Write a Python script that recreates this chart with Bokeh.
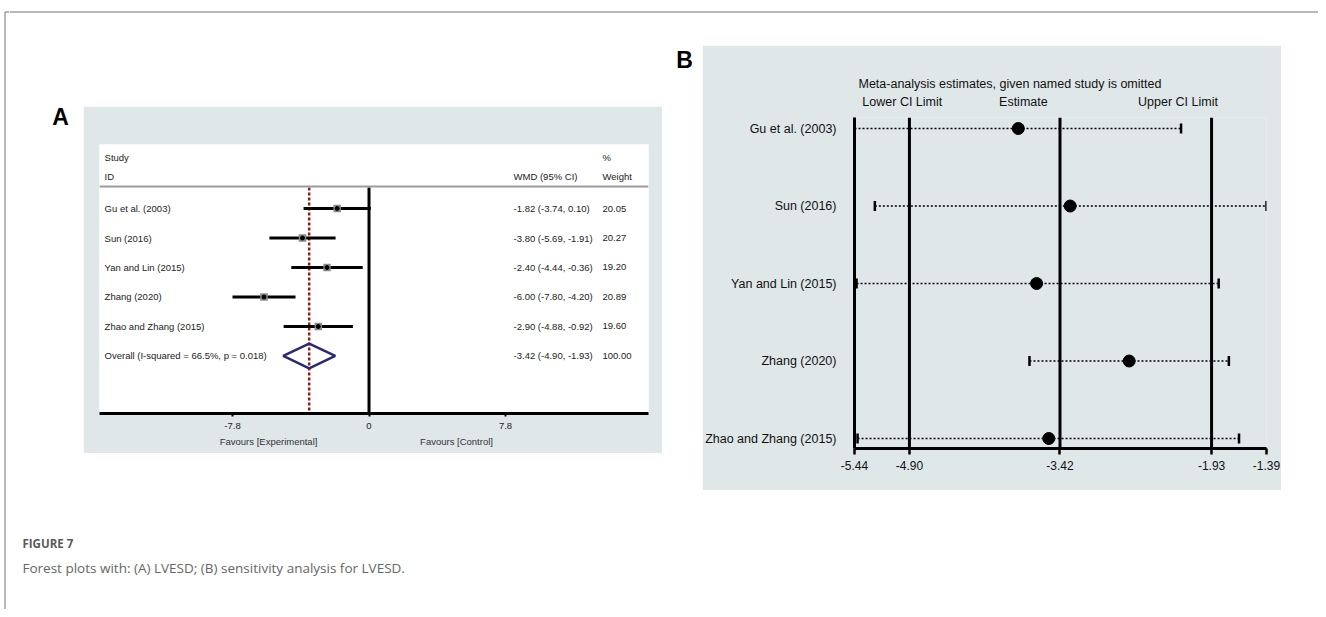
import numpy as np
from bokeh.plotting import figure
from bokeh.models import Range1d, LinearAxis, FixedTicker, Span, Spacer, PrintfTickFormatter
from bokeh.layouts import row, column
from bokeh.core.properties import value
from bokeh.embed import file_html
from bokeh.resources import INLINE

# ---------------- data: panel A (forest plot) ----------------
studies = ["Gu et al. (2003)", "Sun (2016)", "Yan and Lin (2015)", "Zhang (2020)", "Zhao and Zhang (2015)"]
wmd = [-1.82, -3.80, -2.40, -6.00, -2.90]
ci_low = [-3.74, -5.69, -4.44, -7.80, -4.88]
ci_high = [0.10, -1.91, -0.36, -4.20, -0.92]
weights = [20.05, 20.27, 19.20, 20.89, 19.60]
overall_est = -3.42
overall_low = -4.90
overall_high = -1.93
overall_weight = 100.00
i_squared = 66.5
p_value = 0.018
a_ticks = [-7.8, 0, 7.8]
a_tick_labels = ["-7.8", "0", "7.8"]
favour_labels = ["Favours [Experimental]", "Favours [Control]"]

# ---------------- data: panel B (sensitivity analysis) ----------------
omitted = ["Gu et al. (2003)", "Sun (2016)", "Yan and Lin (2015)", "Zhang (2020)", "Zhao and Zhang (2015)"]
b_est = [-3.83, -3.32, -3.65, -2.74, -3.53]
b_low = [-5.44, -5.24, -5.42, -3.72, -5.41]
b_high = [-2.23, -1.39, -1.86, -1.76, -1.66]
b_ref = [-4.90, -3.42, -1.93]
b_ticks = [-5.44, -4.90, -3.42, -1.93, -1.39]
b_headers = ["Lower CI Limit", "Estimate", "Upper CI Limit"]
b_title = "Meta-analysis estimates, given named study is omitted"

caption_head = "FIGURE 7"
caption_text = "Forest plots with: (A) LVESD; (B) sensitivity analysis for LVESD."

# ---------------- styles / layout positions ----------------
FONT = "Liberation Sans"
BG = "#dfe7e9"
BORDER = "#707070"
a_rows = [1, 2, 3, 4, 5]
a_overall_row = 6
a_label_x = -15.11
a_wmd_x = 8.26
a_weight_x = 13.34
a_head1_y = -0.73
a_head2_y = -0.09
a_sep_y = 0.254
a_line_top = 0.29
a_yr = (7.95, -1.17)
a_xr = (-15.4, 15.97)
fav_pos = [-5.74, 5.0]
b_rows = [1, 2, 3, 4, 5]
b_yr = (5.129, 0.858)
b_header_pos = [-4.97, -3.78, -2.26]
STRIP_W = 9
TOTAL_W = 1318
TOTAL_H = 609
INNER_W = TOTAL_W - STRIP_W


def blank(w, h):
    f = figure(width=w, height=h, x_range=Range1d(0, w), y_range=Range1d(h, 0),
               output_backend="svg", toolbar_location=None, min_border=0,
               x_axis_location=None, y_axis_location=None)
    f.outline_line_color = None
    f.grid.visible = False
    f.background_fill_color = "white"
    f.border_fill_color = "white"
    return f


# ---------------- panel A ----------------
pa = figure(width=579, height=347, x_range=Range1d(*a_xr), y_range=Range1d(*a_yr),
            output_backend="svg", toolbar_location=None,
            x_axis_location=None, y_axis_location=None,
            min_border_left=16, min_border_right=14, min_border_top=38, min_border_bottom=40)
pa.grid.visible = False
pa.background_fill_color = "white"
pa.border_fill_color = BG
pa.outline_line_color = None

ax_a = LinearAxis(ticker=FixedTicker(ticks=a_ticks),
                  major_label_overrides=dict(zip(a_ticks, a_tick_labels)),
                  axis_line_width=3, axis_line_color="black",
                  major_tick_out=3, major_tick_in=0, major_tick_line_width=2,
                  minor_tick_line_color=None, major_label_standoff=6,
                  major_label_text_font=FONT, major_label_text_font_size="9.5px",
                  major_label_text_color="#222222")
pa.add_layout(ax_a, "below")
ax_fav = LinearAxis(ticker=FixedTicker(ticks=fav_pos),
                    major_label_overrides=dict(zip(fav_pos, favour_labels)),
                    axis_line_color=None, major_tick_line_color=None, minor_tick_line_color=None,
                    major_label_standoff=-2, major_label_text_font=FONT,
                    major_label_text_font_size="9.5px", major_label_text_color="#333333")
pa.add_layout(ax_fav, "below")

pa.add_layout(Span(location=a_sep_y, dimension="width", line_color="#9c9c9c", line_width=2))
pa.segment(x0=[0], y0=[a_line_top], x1=[0], y1=[a_yr[0]], line_color="black", line_width=3)
pa.segment(x0=[overall_est], y0=[a_line_top], x1=[overall_est], y1=[a_yr[0]],
           line_color="#8b1d1d", line_width=2.5, line_dash="3 2")
pa.segment(x0=ci_low, y0=a_rows, x1=ci_high, y1=a_rows, line_color="black", line_width=3)
pa.scatter(wmd, a_rows, marker="square", size=[7.5 * np.sqrt(w / 20.0) for w in weights],
           fill_color="#8a8a8a", line_color=None)
pa.scatter(wmd, a_rows, marker="circle", size=4, color="black")
pa.patch(x=[overall_low, overall_est, overall_high, overall_est],
         y=[a_overall_row, a_overall_row - 0.42, a_overall_row, a_overall_row + 0.42],
         fill_color=None, line_color="#2b2a6c", line_width=2.5)

txt = dict(text_font=value(FONT), text_font_size="9.5px", text_baseline="middle", text_color="#222222")
pa.text(x=[a_label_x, a_label_x], y=[a_head1_y, a_head2_y], text=["Study", "ID"], **txt)
pa.text(x=[a_weight_x, a_weight_x], y=[a_head1_y, a_head2_y], text=["%", "Weight"], **txt)
pa.text(x=[a_wmd_x], y=[a_head2_y], text=["WMD (95% CI)"], **txt)
pa.text(x=[a_label_x] * 6, y=a_rows + [a_overall_row],
        text=studies + [f"Overall  (I-squared = {i_squared}%, p = {p_value:.3f})"], **txt)
wmd_txt = [f"{e:.2f} ({l:.2f}, {h:.2f})" for e, l, h in zip(wmd, ci_low, ci_high)]
wmd_txt.append(f"{overall_est:.2f} ({overall_low:.2f}, {overall_high:.2f})")
pa.text(x=[a_wmd_x] * 6, y=a_rows + [a_overall_row], text=wmd_txt, **txt)
pa.text(x=[a_weight_x] * 6, y=a_rows + [a_overall_row],
        text=[f"{w:.2f}" for w in weights] + [f"{overall_weight:.2f}"], **txt)

# ---------------- panel B ----------------
pb = figure(width=579, height=445, x_range=Range1d(b_ticks[0], b_ticks[-1]), y_range=Range1d(*b_yr),
            output_backend="svg", toolbar_location=None,
            x_axis_location=None, y_axis_location=None, title=b_title,
            min_border_left=150, min_border_right=15, min_border_top=72, min_border_bottom=42)
pb.grid.visible = False
pb.background_fill_color = BG
pb.border_fill_color = BG
pb.outline_line_color = None
pb.title.align = "left"
pb.title.offset = 4
pb.title.text_font = FONT
pb.title.text_font_size = "12.5px"
pb.title.text_font_style = "normal"
pb.title.text_color = "#111111"
pb.title.standoff = 2

ax_head = LinearAxis(ticker=FixedTicker(ticks=b_header_pos),
                     major_label_overrides=dict(zip(b_header_pos, b_headers)),
                     axis_line_color=None, major_tick_line_color=None, minor_tick_line_color=None,
                     major_label_standoff=3, major_label_text_font=FONT,
                     major_label_text_font_size="12.5px", major_label_text_color="#111111")
pb.add_layout(ax_head, "above")
ax_y = LinearAxis(ticker=FixedTicker(ticks=b_rows), major_label_overrides=dict(zip(b_rows, omitted)),
                  axis_line_width=3, axis_line_color="black", major_tick_line_color=None,
                  minor_tick_line_color=None, major_label_standoff=12,
                  major_label_text_font=FONT, major_label_text_font_size="12.5px",
                  major_label_text_color="#111111")
pb.add_layout(ax_y, "left")
ax_b = LinearAxis(ticker=FixedTicker(ticks=b_ticks), formatter=PrintfTickFormatter(format="%.2f"),
                  axis_line_width=3, axis_line_color="black", major_tick_out=6, major_tick_in=0,
                  major_tick_line_width=2.5, minor_tick_line_color=None, major_label_standoff=6,
                  major_label_text_font=FONT, major_label_text_font_size="12px",
                  major_label_text_color="#111111")
pb.add_layout(ax_b, "below")
for v in b_ref:
    pb.add_layout(Span(location=v, dimension="height", line_color="black", line_width=3))
pb.segment(x0=b_low, y0=b_rows, x1=b_high, y1=b_rows, line_color="black", line_width=1.5, line_dash="2 2")
pb.scatter(b_low, b_rows, marker="dash", angle=np.pi / 2, size=10, line_color="black", line_width=2.5)
pb.scatter(b_high, b_rows, marker="dash", angle=np.pi / 2, size=10, line_color="black", line_width=2.5)
pb.scatter(b_est, b_rows, marker="circle", size=12, color="black")

# ---------------- decoration figures ----------------
strip = blank(STRIP_W, TOTAL_H)
strip.segment(x0=[4.5, 4.5], y0=[11.5, 11.5], x1=[4.5, STRIP_W], y1=[TOTAL_H, 11.5],
              line_color=BORDER, line_width=1)

top = blank(INNER_W, 45)
top.segment(x0=[0], y0=[11.5], x1=[INNER_W], y1=[11.5], line_color=BORDER, line_width=1)

left_a = blank(83 - STRIP_W, 445)
left_a.text(x=[60 - STRIP_W], y=[71], text=["A"], text_font=value(FONT), text_font_size="23px",
            text_font_style="bold", text_align="center", text_baseline="middle", text_color="black")

a_top = blank(619, 61)
a_top.text(x=[601], y=[14], text=["B"], text_font=value(FONT), text_font_size="23px",
           text_font_style="bold", text_align="center", text_baseline="middle", text_color="black")

cap = blank(INNER_W, TOTAL_H - 490)
cap.text(x=[22 - STRIP_W], y=[53], text=[caption_head], text_font=value("Open Sans"), text_font_size="11.5px",
         text_font_style="bold", text_baseline="middle", text_color="#5a5a5a")
cap.text(x=[22 - STRIP_W], y=[77], text=[caption_text], text_font=value("Open Sans"), text_font_size="13.5px",
         text_baseline="middle", text_color="#666666")

col_a = column(a_top, row(pa, Spacer(width=40, height=347)), Spacer(width=619, height=37))
middle = row(column(left_a), col_a, column(pb), Spacer(width=TOTAL_W - 1281, height=445))
page = row(strip, column(top, middle, cap))

open("out.html", "w").write(file_html(page, INLINE))
